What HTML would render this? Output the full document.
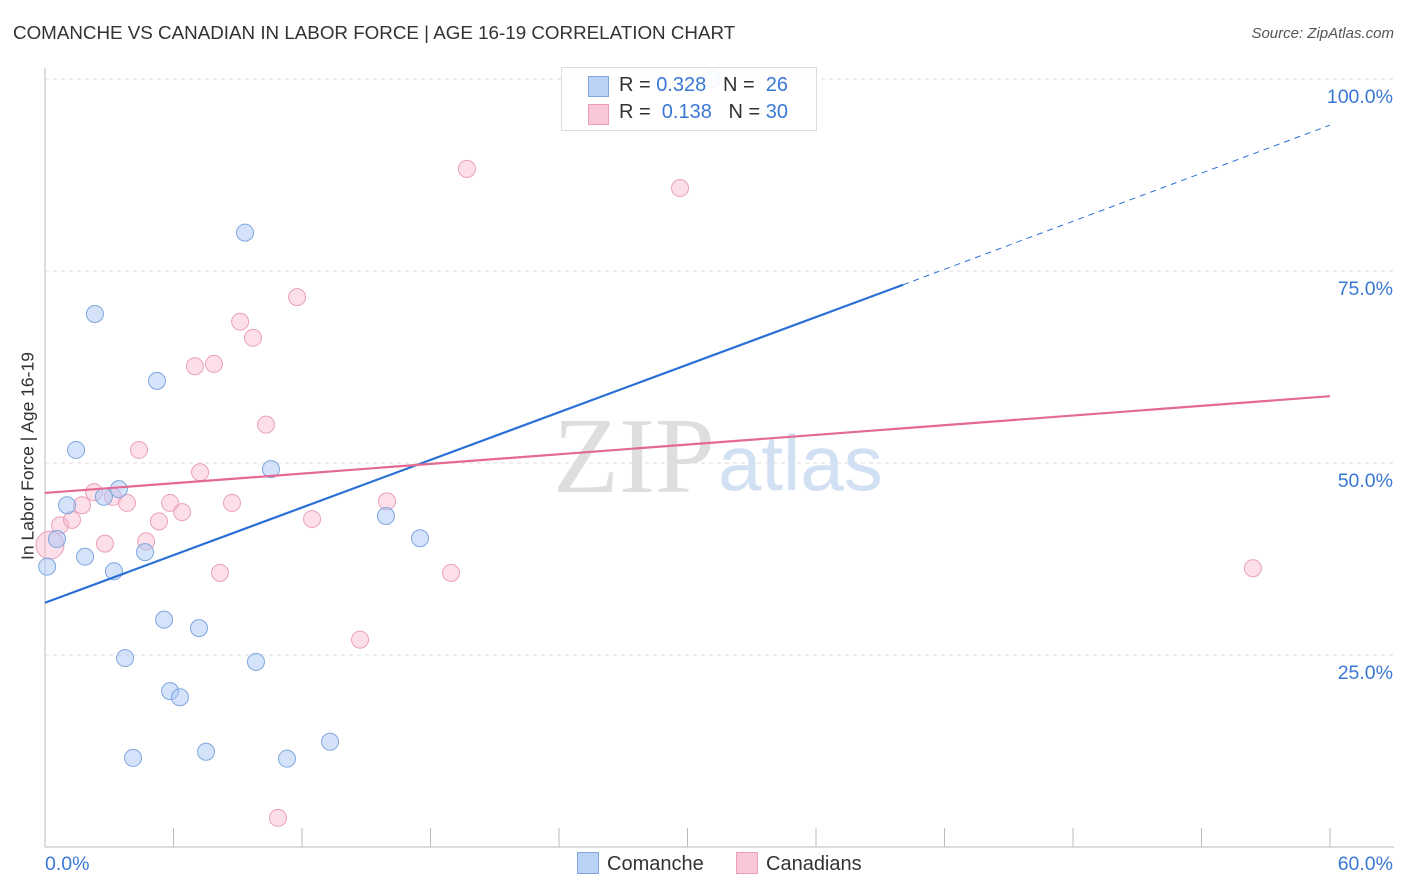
<!DOCTYPE html>
<html><head><meta charset="utf-8">
<style>
body{margin:0;background:#fff;font-family:"Liberation Sans",sans-serif;}
#wrap{position:relative;width:1406px;height:892px;overflow:hidden;}
.t{position:absolute;white-space:nowrap;}
</style></head><body>
<div id="wrap">
<div class="t" style="left:13px;top:22px;font-size:18.8px;color:#333;">COMANCHE VS CANADIAN IN LABOR FORCE | AGE 16-19 CORRELATION CHART</div>
<div class="t" style="right:12px;top:25px;font-size:15px;color:#555;font-style:italic;">Source: ZipAtlas.com</div>
<div class="t" style="left:28px;top:456px;font-size:17.5px;color:#333;transform:translate(-50%,-50%) rotate(-90deg);">In Labor Force | Age 16-19</div>
<svg id="svg" width="1406" height="892" style="position:absolute;left:0;top:0"></svg>
</div>
<script>
const xTicks=[0,10,20,30,40,50,60];
const yTicks=[25,50,75,100];
const yTickLabels=["25.0%","50.0%","75.0%","100.0%"];
const comancheX=[0.1,0.56,1.03,1.45,1.87,2.33,2.75,3.22,3.45,3.74,4.11,4.67,5.23,5.56,5.84,6.3,7.19,7.52,9.34,9.85,10.55,11.3,13.31,15.92,17.51,31.14];
const comancheY=[36.5,40.1,44.5,51.7,37.8,69.4,45.6,35.9,46.6,24.6,11.6,38.4,60.7,29.6,20.3,19.5,28.5,12.4,80.0,24.1,49.2,11.5,13.7,43.1,40.2,100.0];
const canadX=[0.23,0.7,1.26,1.73,2.29,2.8,3.17,3.83,4.39,4.72,5.32,5.84,6.4,7.0,7.24,7.89,8.17,8.73,9.11,9.71,10.32,10.88,11.77,12.47,14.71,15.97,18.96,19.7,29.65,56.4];
const canadY=[39.3,41.9,42.6,44.5,46.2,39.5,45.6,44.8,51.7,39.8,42.4,44.8,43.6,62.6,48.8,62.9,35.7,44.8,68.4,66.3,55.0,3.8,71.6,42.7,27.0,45.0,35.7,88.3,85.8,36.3];
const comancheLine=[[0,31.8],[40.06,73.2],[60,94.0]];
const canadLine=[[0,46.1],[60,58.7]];
const X=v=>45+v*21.417, Y=v=>847-v*7.68;
const svg=document.getElementById('svg');
const NS='http://www.w3.org/2000/svg';
function mk(tag,attrs){const e=document.createElementNS(NS,tag);for(const k in attrs)e.setAttribute(k,attrs[k]);svg.appendChild(e);return e;}
yTicks.forEach((v,i)=>{
 const g=mk('line',{x1:45,x2:1394,y1:Y(v),y2:Y(v),stroke:'#ddd','stroke-dasharray':'4,4'});
 
 
 const t=mk('text',{x:1393,y:Y(v)+24,'text-anchor':'end','font-size':19.5,fill:'#3a78d6','font-family':'Liberation Sans'});
 t.textContent=yTickLabels[i];
 
 
});
const l0=mk('line',{x1:45,x2:1394,y1:847,y2:847,stroke:'#bbb'});


const l1=mk('line',{x1:45,x2:45,y1:68,y2:847,stroke:'#bbb'});


for(let i=1;i<=10;i++){const xv=i*6;const tk=mk('line',{x1:X(xv),x2:X(xv),y1:828,y2:847,stroke:'#bbb'});
 
 }
const xl=mk('text',{x:45,y:870,'font-size':19.5,fill:'#3a78d6','font-family':'Liberation Sans'});xl.textContent='0.0%';


const xr=mk('text',{x:1393,y:870,'text-anchor':'end','font-size':19.5,fill:'#3a78d6','font-family':'Liberation Sans'});xr.textContent='60.0%';


const w1=mk('text',{x:553,y:492,'font-size':108,fill:'#dedede','font-family':'Liberation Serif'});w1.textContent='ZIP';


const w2=mk('text',{x:718,y:490,'font-size':78,fill:'#d2e0f3','font-family':'Liberation Sans'});w2.textContent='atlas';


canadX.forEach((x,i)=>{const c=mk('circle',{cx:X(x),cy:Y(canadY[i]),r:i==0?14:8.5,fill:'rgba(248,183,204,0.45)',stroke:'#eba0b8','stroke-width':1});
 
 });
comancheX.forEach((x,i)=>{const c=mk('circle',{cx:X(x),cy:Y(comancheY[i]),r:8.5,fill:'rgba(170,200,245,0.5)',stroke:'#7fa6dd','stroke-width':1});
 
 });
const b1=mk('line',{x1:X(comancheLine[0][0]),y1:Y(comancheLine[0][1]),x2:X(comancheLine[1][0]),y2:Y(comancheLine[1][1]),stroke:'#2a6fd6','stroke-width':2.2});


const b2=mk('line',{x1:X(comancheLine[1][0]),y1:Y(comancheLine[1][1]),x2:X(comancheLine[2][0]),y2:Y(comancheLine[2][1]),stroke:'#2a6fd6','stroke-width':1,'stroke-dasharray':'6,5'});


const p1=mk('line',{x1:X(canadLine[0][0]),y1:Y(canadLine[0][1]),x2:X(canadLine[1][0]),y2:Y(canadLine[1][1]),stroke:'#e46a92','stroke-width':2.2});


</script>
<div style="position:absolute;left:561px;top:67px;width:254px;height:62px;background:rgba(255,255,255,0.9);border:1px solid #ddd;font-size:20px;color:#333;">
 <div style="position:absolute;left:26px;top:8px;width:19px;height:19px;background:#b9d2f5;border:1px solid #7fa6dd;"></div>
 <div class="t" style="left:57px;top:6px;">R = <span style="color:#3a78d6">0.328</span>&nbsp;&nbsp;&nbsp;N = &nbsp;<span style="color:#3a78d6">26</span></div>
 <div style="position:absolute;left:26px;top:36px;width:19px;height:19px;background:#f9c7d6;border:1px solid #eba0b8;"></div>
 <div class="t" style="left:57px;top:33px;">R = &nbsp;<span style="color:#3a78d6">0.138</span>&nbsp;&nbsp;&nbsp;N = <span style="color:#3a78d6">30</span></div>
</div>
<div style="position:absolute;left:577px;top:852px;font-size:20px;color:#333;">
 <span style="display:inline-block;width:20px;height:20px;background:#b9d2f5;border:1px solid #7fa6dd;vertical-align:-4px;margin-right:8px;"></span>Comanche</div>
<div style="position:absolute;left:736px;top:852px;font-size:20px;color:#333;">
 <span style="display:inline-block;width:20px;height:20px;background:#f9c7d6;border:1px solid #eba0b8;vertical-align:-4px;margin-right:8px;"></span>Canadians</div>
</body></html>
